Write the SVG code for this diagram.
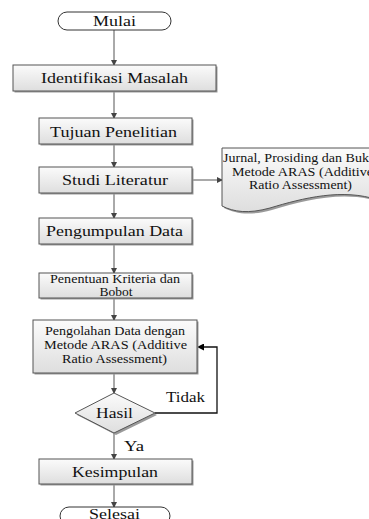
<svg xmlns="http://www.w3.org/2000/svg" width="369" height="519" viewBox="0 0 369 519" font-family="'Liberation Serif', 'Times New Roman', 'DejaVu Serif', serif">
<defs>
<linearGradient id="g" x1="0" y1="0" x2="0" y2="1">
<stop offset="0" stop-color="#fbfbfb"/>
<stop offset="1" stop-color="#dedede"/>
</linearGradient>
<marker id="ah" markerWidth="6" markerHeight="6" refX="5" refY="3" orient="auto" markerUnits="userSpaceOnUse">
<path d="M0,0 L6,3 L0,6 Z" fill="#444"/>
</marker>
<marker id="ahb" markerWidth="7" markerHeight="7" refX="6" refY="3.5" orient="auto" markerUnits="userSpaceOnUse">
<path d="M0,0 L7,3.5 L0,7 Z" fill="#000"/>
</marker>
</defs>
<style>
.box{fill:url(#g);stroke:#555;stroke-width:1}
.sh{fill:#9a9a9a}
.term{fill:#fff;stroke:#333;stroke-width:1}
text{fill:#111;text-anchor:middle}
.t15{font-size:15px}
.t12{font-size:12px}
.t13{font-size:12.5px}
.c{fill:none;stroke:#555;stroke-width:1;marker-end:url(#ah)}
.cb{fill:none;stroke:#111;stroke-width:1.3;marker-end:url(#ahb)}
</style>

<g id="connectors">
<path class="c" d="M114,30 V65"/>
<path class="c" d="M114,91 V118"/>
<path class="c" d="M114,145 V167"/>
<path class="c" d="M114,193 V218"/>
<path class="c" d="M192,180 H222"/>
<path class="c" d="M114,245 V273"/>
<path class="c" d="M114,298 V320"/>
<path class="c" d="M114,373 V393"/>
<path class="c" d="M114,433 V459"/>
<path class="c" d="M114,484 V507"/>
<path class="cb" d="M155,413 H217 V347 H198"/>
<text class="t15" x="185.5" y="402" textLength="39" lengthAdjust="spacingAndGlyphs">Tidak</text>
<text class="t15" x="134" y="451" textLength="20" lengthAdjust="spacingAndGlyphs">Ya</text>
</g>

<g id="mulai">
<rect class="term" x="58" y="12" width="113" height="18" rx="9"/>
<text class="t15" x="114.5" y="25.5" textLength="43" lengthAdjust="spacingAndGlyphs">Mulai</text>
</g>

<g id="identifikasi">
<rect class="sh" x="14.5" y="66.5" width="203" height="26"/>
<rect class="box" x="13" y="65" width="203" height="26"/>
<text class="t15" x="114.5" y="83" textLength="147" lengthAdjust="spacingAndGlyphs">Identifikasi Masalah</text>
</g>

<g id="tujuan">
<rect class="sh" x="40.5" y="119.5" width="153" height="26"/>
<rect class="box" x="39" y="118" width="153" height="26"/>
<text class="t15" x="113.5" y="136.5" textLength="127" lengthAdjust="spacingAndGlyphs">Tujuan Penelitian</text>
</g>

<g id="studi">
<rect class="sh" x="40.5" y="168.5" width="153" height="26"/>
<rect class="box" x="39" y="167" width="153" height="26"/>
<text class="t15" x="115" y="184.5" textLength="106" lengthAdjust="spacingAndGlyphs">Studi Literatur</text>
</g>

<g id="literatur">
<path d="M224,150 H380 V202 C345,190 305,200 272,210 C250,216 236,214 224,208 Z" fill="#9a9a9a"/>
<path d="M222,148 H378 V200 C343,188 303,198 270,208 C248,214 234,212 222,206 Z" fill="url(#g)" stroke="#555" stroke-width="1"/>
<text class="t13" x="223" y="162" style="text-anchor:start" textLength="146" lengthAdjust="spacingAndGlyphs">Jurnal, Prosiding dan Buk</text>
<text class="t13" x="232" y="176" style="text-anchor:start" textLength="141" lengthAdjust="spacingAndGlyphs">Metode ARAS (Additive</text>
<text class="t13" x="300.5" y="189" textLength="103" lengthAdjust="spacingAndGlyphs">Ratio Assessment)</text>
</g>

<g id="pengumpulan">
<rect class="sh" x="40.5" y="219.5" width="153" height="26"/>
<rect class="box" x="39" y="218" width="153" height="26"/>
<text class="t15" x="114.5" y="236" textLength="137" lengthAdjust="spacingAndGlyphs">Pengumpulan Data</text>
</g>

<g id="penentuan">
<rect class="sh" x="40.5" y="274.5" width="153" height="25"/>
<rect class="box" x="39" y="273" width="153" height="25"/>
<text class="t12" x="115" y="283" textLength="130" lengthAdjust="spacingAndGlyphs">Penentuan Kriteria dan</text>
<text class="t12" x="116" y="296" textLength="33" lengthAdjust="spacingAndGlyphs">Bobot</text>
</g>

<g id="pengolahan">
<rect class="sh" x="34.5" y="321.5" width="164" height="53"/>
<rect class="box" x="33" y="320" width="164" height="53"/>
<text class="t13" x="115" y="335" textLength="140" lengthAdjust="spacingAndGlyphs">Pengolahan Data dengan</text>
<text class="t13" x="115.5" y="349" textLength="143" lengthAdjust="spacingAndGlyphs">Metode ARAS (Additive</text>
<text class="t13" x="114.5" y="363" textLength="105" lengthAdjust="spacingAndGlyphs">Ratio Assessment)</text>
</g>

<g id="hasil">
<path d="M116,395 L157,415 L116,435 L77,415 Z" fill="#9a9a9a"/>
<path d="M114,393 L155,413 L114,433 L75,413 Z" fill="url(#g)" stroke="#555" stroke-width="1"/>
<text class="t15" x="114.5" y="418" textLength="37" lengthAdjust="spacingAndGlyphs">Hasil</text>
</g>

<g id="kesimpulan">
<rect class="sh" x="40.5" y="460.5" width="153" height="25"/>
<rect class="box" x="39" y="459" width="153" height="25"/>
<text class="t15" x="115" y="476.5" textLength="86" lengthAdjust="spacingAndGlyphs">Kesimpulan</text>
</g>

<g id="selesai">
<rect class="term" x="60" y="507" width="110" height="18" rx="9"/>
<text class="t15" x="114.5" y="519" textLength="51" lengthAdjust="spacingAndGlyphs">Selesai</text>
</g>
</svg>
